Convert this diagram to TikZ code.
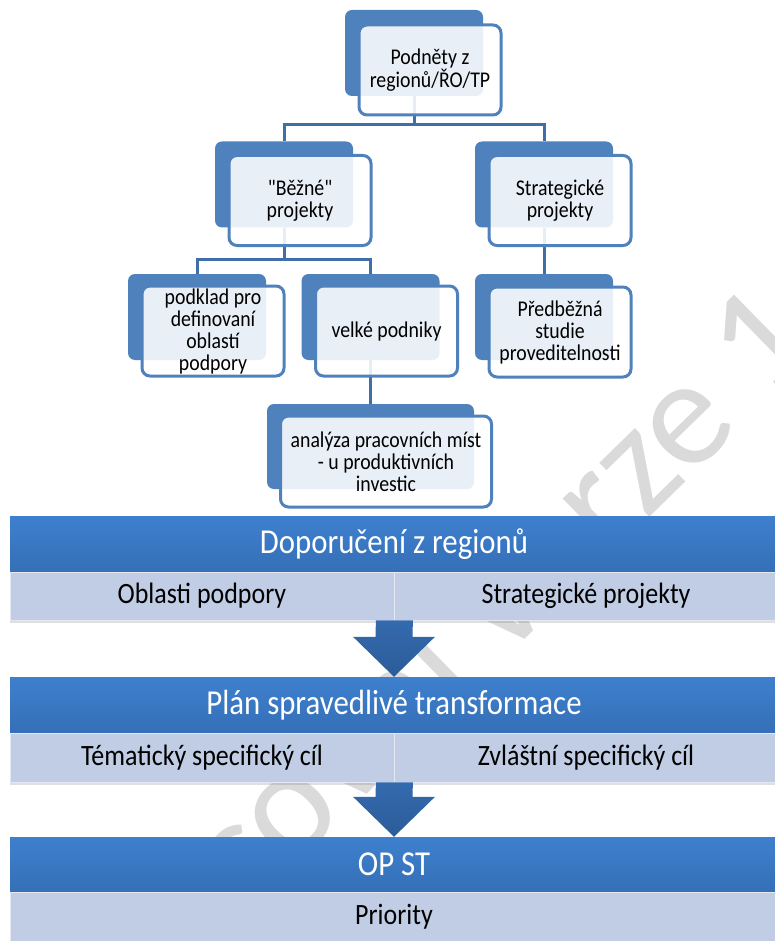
\documentclass[tikz,border=0pt]{standalone}
\usepackage{fontspec}
\setmainfont{Carlito}
\newfontfamily\carlito{Carlito}[FakeStretch=0.88]
\newfontfamily\wmfont{Carlito}
\usetikzlibrary{calc,shadows}

\definecolor{boxblue}{RGB}{79,129,189}
\definecolor{treeblue}{RGB}{64,110,168}
\definecolor{bandtop}{RGB}{62,128,206}
\definecolor{bandbot}{RGB}{53,111,183}
\definecolor{subfill}{RGB}{192,205,228}
\definecolor{arrtop}{RGB}{52,106,174}
\definecolor{arrbot}{RGB}{44,92,153}
\definecolor{wmgray}{RGB}{218,218,218}

\tikzset{
backbox/.style={rectangle, fill=boxblue, rounded corners=7pt,
minimum width=138pt, minimum height=86pt, inner sep=0pt},
frontbox/.style={rectangle, draw=boxblue, line width=3pt, fill=white,
fill opacity=0.88, text opacity=1, rounded corners=8pt,
minimum width=142pt, minimum height=90pt, inner sep=0pt, align=center,
font=\carlito\fontsize{22.5}{22}\selectfont},
tree/.style={draw=treeblue, line width=3pt},
band/.style={rectangle, top color=bandtop, bottom color=bandbot,
minimum width=768pt, minimum height=56pt, inner sep=0pt, text=white,
font=\carlito\fontsize{35}{40}\selectfont},
subband/.style={rectangle, fill=subfill, draw=white!55!subfill, line width=0.8pt,
minimum width=384pt, minimum height=48pt, inner sep=0pt,
font=\carlito\fontsize{29.5}{34}\selectfont,
drop shadow={shadow xshift=0pt, shadow yshift=-3pt, opacity=0.25}},
blockarrow/.style={top color=arrtop, bottom color=arrbot}
}

\newcommand{\downblock}[2]{%
\path[blockarrow] ($(#1)+(-18.5,0)$) -- ($(#2)+(-18.5,-40)$) -- ($(#2)+(-41,-40)$)
-- (#2) -- ($(#2)+(41,-40)$) -- ($(#2)+(18.5,-40)$) -- ($(#1)+(18.5,0)$) -- cycle;}

\begin{document}
\begin{tikzpicture}[x=1pt,y=-1pt]
\useasboundingbox (0,0) rectangle (775,941);
\node[rotate=44.4, anchor=base, text=wmgray,
font=\wmfont\fontsize{154}{160}\selectfont](wm) at (460,703) {Pracovní verze 1};

\node[backbox](bpod) at (414,53) {};
\node[backbox](bbez) at (284,184.5) {};
\node[backbox](bstr) at (544,184.5) {};
\node[backbox](bpodk) at (197,317) {};
\node[backbox](bvel) at (370.5,317) {};
\node[backbox](bpred) at (544,317) {};
\node[backbox](bana) at (370.5,446.5) [minimum width=207pt, minimum height=85pt] {};

\coordinate (t1) at (414,125);
\coordinate (t2) at (284,259);
\draw[tree] (bpod.south)--(t1);
\draw[tree] (bbez.north) |- (t1) -| (bstr.north);
\draw[tree] (bbez.south)--(t2);
\draw[tree] (bpodk.north) |- (t2) -| (bvel.north);
\draw[tree] (bstr.south)--(bpred.north);
\draw[tree] (bvel.south)--(bana.north);

\node[frontbox](pod) at (430,70) {Podněty z\\regionů/ŘO/TP};
\node[frontbox](bez) at (300,200.5) {"Běžné"\\projekty};
\node[frontbox](str) at (560,200.5) {Strategické\\projekty};
\node[frontbox](podk) at (213,331) {podklad pro\\definovaní\\oblastí\\podpory};
\node[frontbox](vel) at (386.5,331) {velké podniky};
\node[frontbox](pred) at (560,332) {Předběžná\\studie\\proveditelnosti};
\node[frontbox](ana) at (386,461.5) [minimum width=211pt, minimum height=91pt]
{analýza pracovních míst\\- u produktivních\\investic};

\node[band](dop) at (394,544) {Doporučení z regionů};
\node[subband](obl) at (202,596) {Oblasti podpory};
\node[subband](strp) at (586,596) {Strategické projekty};
\node[band](plan) at (394,705) {Plán spravedlivé transformace};
\node[subband](tem) at (202,757.5) [minimum height=49pt] {Tématický specifický cíl};
\node[subband](zvl) at (586,757.5) [minimum height=49pt] {Zvláštní specifický cíl};
\node[band](opst) at (394,864.5) [minimum height=55pt] {OP ST};
\node[subband](pri) at (394,917) [minimum width=768pt, minimum height=50pt] {Priority};

\downblock{obl.south east}{plan.north}
\downblock{tem.south east}{opst.north}
\end{tikzpicture}
\end{document}
